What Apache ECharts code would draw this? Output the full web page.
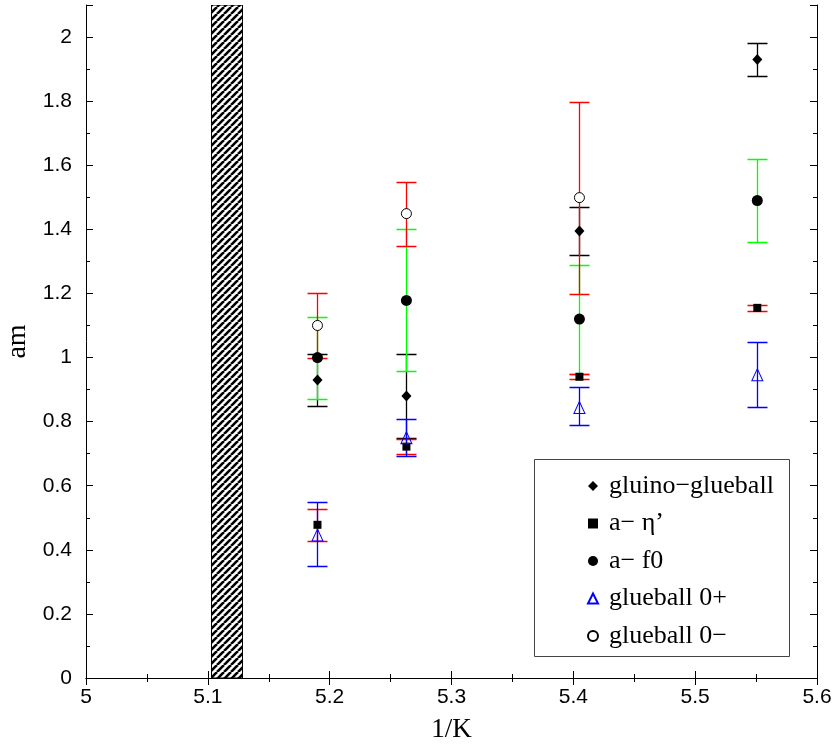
<!DOCTYPE html>
<html>
<head>
<meta charset="utf-8">
<script src="https://cdn.jsdelivr.net/npm/echarts@6/dist/echarts.min.js"></script>
<style>html,body{margin:0;padding:0;background:#fff}#c{width:835px;height:745px}</style>
</head>
<body>
<div id="c"></div>
<script>
// ---- data ----
const xs = [5.19, 5.263, 5.405, 5.551];
const xsGb0m = [5.19, 5.263, 5.405];
const gluino = [0.93, 0.88, 1.395, 1.93];
const gluinoLo = [0.85, 0.75, 1.32, 1.88];
const gluinoHi = [1.01, 1.01, 1.47, 1.98];
const etaP = [0.478, 0.722, 0.94, 1.155];
const etaPLo = [0.428, 0.70, 0.932, 1.145];
const etaPHi = [0.528, 0.746, 0.948, 1.164];
const f0 = [1.0, 1.178, 1.12, 1.49];
const f0Lo = [0.87, 0.958, 0.948, 1.36];
const f0Hi = [1.128, 1.40, 1.29, 1.62];
const gb0p = [0.446, 0.75, 0.844, 0.946];
const gb0pLo = [0.348, 0.694, 0.79, 0.847];
const gb0pHi = [0.548, 0.808, 0.909, 1.048];
const gb0m = [1.10, 1.449, 1.499];
const gb0mLo = [1.0, 1.348, 1.199];
const gb0mHi = [1.2, 1.548, 1.798];
const band = [5.1023, 5.1283];
const names = ['gluino\u2212glueball', 'a\u2212 \u03b7\u2019', 'a\u2212 f0', 'glueball 0+', 'glueball 0\u2212'];

// hatch pattern
const pc = document.createElement('canvas');
const P = 7;
pc.width = P; pc.height = P;
const g = pc.getContext('2d');
g.fillStyle = '#fff'; g.fillRect(0, 0, P, P);
g.strokeStyle = '#000'; g.lineWidth = 2.6;
for (let k = -1; k <= 1; k++) {
  g.beginPath(); g.moveTo(k * P, P); g.lineTo(k * P + P, 0); g.stroke();
}

function makeErrRender(color) {
  return function (params, api) {
    const x = api.value(0), lo = api.value(1), hi = api.value(2);
    const a = api.coord([x, lo]), b = api.coord([x, hi]);
    const cx = Math.round(a[0]) + 0.5;
    const yl = Math.round(a[1]) + 0.5, yh = Math.round(b[1]) + 0.5;
    const w = 10;
    return { type: 'polyline',
      shape: { points: [[cx - w, yl], [cx + w, yl], [cx, yl], [cx, yh], [cx - w, yh], [cx + w, yh]] },
      style: { stroke: color, lineWidth: 1.3, fill: null } };
  };
}
function errSeries(xv, lo, hi, color) {
  return { type: 'custom', renderItem: makeErrRender(color), z: 2, silent: true,
    itemStyle: { color: color },
    encode: { x: 0, y: [1, 2] },
    data: xv.map((x, i) => [x, lo[i], hi[i]]) };
}
function pts(xv, yv) { return xv.map((x, i) => [x, yv[i]]); }

const chart = echarts.init(document.getElementById('c'));
const tickCommon = { show: true, inside: true, lineStyle: { color: '#000', width: 1 } };
const lineCommon = { show: true, lineStyle: { color: '#000', width: 1 } };
const labelFont = { fontFamily: 'Liberation Sans', fontSize: 21, color: '#000' };

chart.setOption({
  animation: false,
  backgroundColor: '#fff',
  grid: { left: 86, right: 18, top: 5, bottom: 67, containLabel: false, outerBoundsMode: 'none' },
  xAxis: [
    { type: 'value', position: 'bottom', min: 5, max: 5.6, interval: 0.1,
      axisLine: lineCommon, axisTick: Object.assign({ length: 7 }, tickCommon),
      minorTick: { show: true, splitNumber: 2, length: 4, lineStyle: { color: '#000' } },
      axisLabel: Object.assign({ margin: 9 }, labelFont),
      splitLine: { show: false },
      name: '1/K', nameLocation: 'middle', nameGap: 38,
      nameTextStyle: { fontFamily: 'Liberation Serif', fontSize: 27, color: '#000' } },
    { type: 'value', position: 'top', min: 5, max: 5.6, interval: 0.1,
      axisLine: lineCommon, axisTick: Object.assign({ length: 7 }, tickCommon),
      minorTick: { show: true, splitNumber: 2, length: 4, lineStyle: { color: '#000' } },
      axisLabel: { show: false }, splitLine: { show: false } }
  ],
  yAxis: [
    { type: 'value', position: 'left', min: 0, max: 2.1, interval: 0.2,
      axisLine: lineCommon, axisTick: Object.assign({ length: 7 }, tickCommon),
      axisLabel: Object.assign({ margin: 14, formatter: v => (v > 2.05 ? '' : String(+v.toFixed(1))) }, labelFont),
      splitLine: { show: false },
      name: 'am', nameLocation: 'middle', nameGap: 52, nameRotate: 90,
      nameTextStyle: { fontFamily: 'Liberation Serif', fontSize: 28, color: '#000' } },
    { type: 'value', position: 'left', min: 0, max: 2.1, interval: 0.1,
      axisLine: { show: false }, axisTick: Object.assign({ length: 4 }, tickCommon),
      axisLabel: { show: false }, splitLine: { show: false } },
    { type: 'value', position: 'right', min: 0, max: 2.1, interval: 0.2,
      axisLine: lineCommon, axisTick: Object.assign({ length: 7 }, tickCommon),
      axisLabel: { show: false }, splitLine: { show: false } },
    { type: 'value', position: 'right', min: 0, max: 2.1, interval: 0.1,
      axisLine: { show: false }, axisTick: Object.assign({ length: 4 }, tickCommon),
      axisLabel: { show: false }, splitLine: { show: false } }
  ],
  legend: {
    orient: 'vertical', left: 587, top: 473, padding: 0, itemGap: 11.5, z: 8,
    itemWidth: 10, itemHeight: 10, selectedMode: false,
    textStyle: { fontFamily: 'Liberation Serif', fontSize: 26, color: '#000', padding: [0, 0, 0, 6] },
    data: names
  },
  graphic: [
    { type: 'rect', z: 5, silent: true,
      shape: { x: 534.5, y: 459.5, width: 255, height: 197 },
      style: { fill: '#fff', stroke: '#444', lineWidth: 1 } }
  ],
  series: [
    { type: 'custom', silent: true, z: 1, clip: true,
      renderItem: function (params, api) {
        const a = api.coord([api.value(0), 2.1]);
        const b = api.coord([api.value(1), 0]);
        const x0 = Math.round(a[0]) + 0.5, x1 = Math.round(b[0]) + 0.5;
        return { type: 'rect', shape: { x: x0, y: a[1], width: x1 - x0, height: b[1] - a[1] },
          style: { fill: { image: pc, repeat: 'repeat' }, stroke: '#000', lineWidth: 1 } };
      },
      encode: { x: [0, 1] },
      data: [[band[0], band[1]]] },
    errSeries(xs, gluinoLo, gluinoHi, '#000000'),
    errSeries(xs, f0Lo, f0Hi, '#00ff00'),
    errSeries(xsGb0m, gb0mLo, gb0mHi, '#ff0000'),
    errSeries(xs, etaPLo, etaPHi, '#ff0000'),
    errSeries(xs, gb0pLo, gb0pHi, '#0000ff'),
    { name: names[0], type: 'scatter', z: 4, symbol: 'diamond', symbolSize: [10, 11],
      itemStyle: { color: '#000', opacity: 1 }, data: pts(xs, gluino) },
    { name: names[1], type: 'scatter', z: 4, symbol: 'rect', symbolSize: [8, 8],
      itemStyle: { color: '#000', opacity: 1 }, data: pts(xs, etaP) },
    { name: names[2], type: 'scatter', z: 4, symbol: 'circle', symbolSize: 11,
      itemStyle: { color: '#000', opacity: 1 }, data: pts(xs, f0) },
    { name: names[3], type: 'scatter', z: 4, symbol: 'triangle', symbolSize: [11, 12],
      itemStyle: { color: 'rgba(0,0,0,0)', borderColor: '#0000ff', borderWidth: 1, opacity: 1 },
      data: pts(xs, gb0p) },
    { name: names[4], type: 'scatter', z: 4, symbol: 'circle', symbolSize: 10,
      itemStyle: { color: '#fff', borderColor: '#000', borderWidth: 1, opacity: 1 },
      data: pts(xsGb0m, gb0m) }
  ]
});
</script>
</body>
</html>
